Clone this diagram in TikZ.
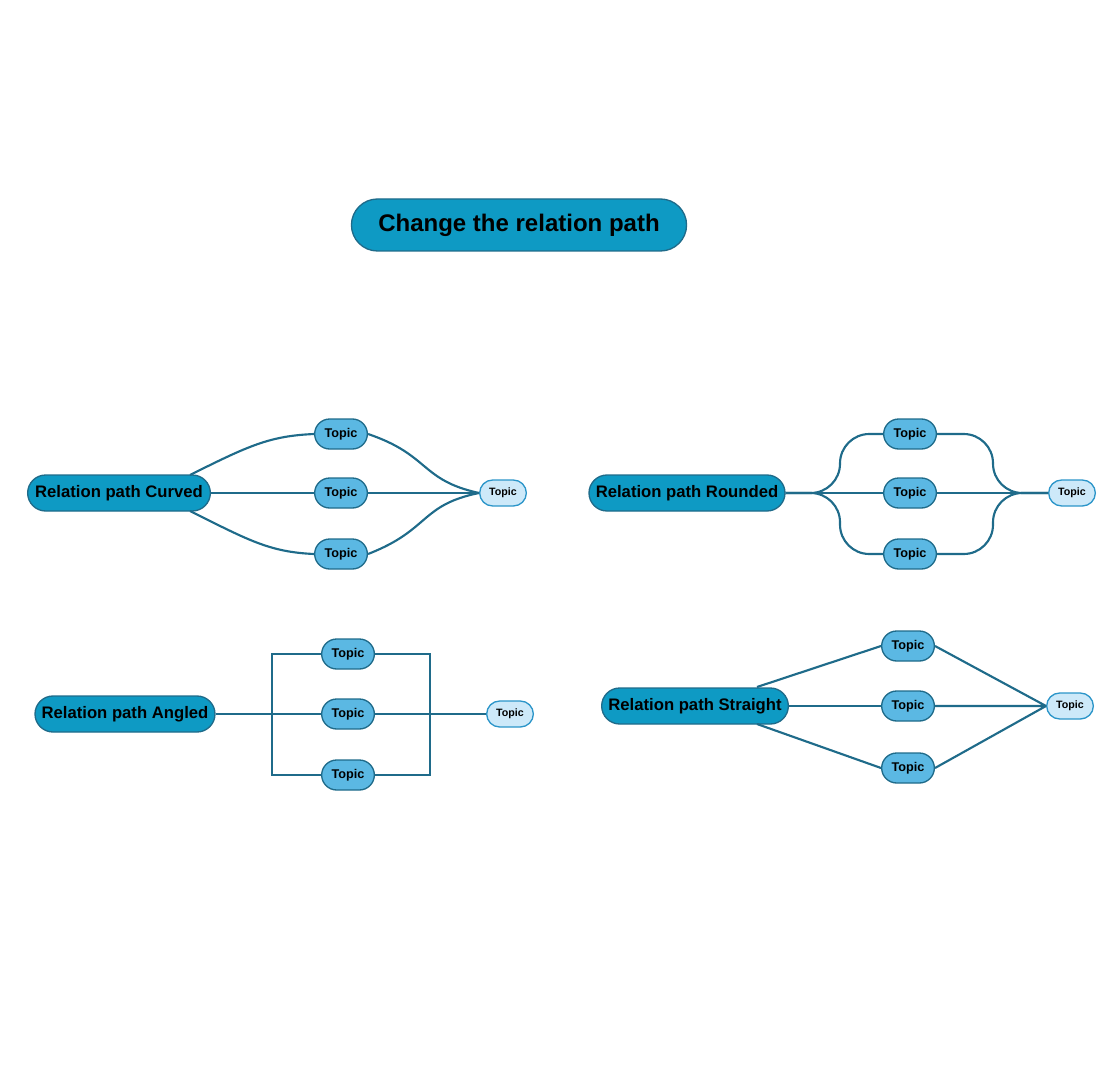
\documentclass[tikz,border=0pt]{standalone}
\usepackage{fontspec}
\setmainfont{Liberation Sans}
\usetikzlibrary{shapes.misc}
\definecolor{mainfill}{HTML}{0E9AC4}
\definecolor{topicfill}{HTML}{5BB8E3}
\definecolor{endfill}{HTML}{CDE9F9}
\definecolor{edge}{HTML}{1F6B8A}
\definecolor{endedge}{HTML}{2B95C9}
\tikzset{
	mainnode/.style={rounded rectangle,draw=edge,fill=mainfill,line width=1pt,font=\bfseries\fontsize{12.5}{14}\selectfont,minimum height=27pt,inner xsep=8pt},
	topicnode/.style={rounded rectangle,draw=edge,fill=topicfill,line width=1pt,font=\bfseries\fontsize{9.5}{11}\selectfont,minimum width=43.5pt,minimum height=22.5pt,inner sep=2pt},
	endnode/.style={rounded rectangle,draw=endedge,fill=endfill,line width=1pt,font=\bfseries\fontsize{8}{10}\selectfont,minimum width=39pt,minimum height=19.5pt,inner sep=2pt},
	rel/.style={draw=edge,line width=1.6pt}
}
\begin{document}
\begin{tikzpicture}[x=0.75pt,y=-0.75pt]
	\useasboundingbox (0,0) rectangle (1105,1080);
	\node [rounded rectangle,draw=edge,fill=mainfill,line width=1pt,font=\bfseries\fontsize{18}{20}\selectfont,minimum width=258pt,minimum height=39pt] (title) at (519,225) {Change the relation path};
	% curved
	\node [mainnode,minimum width=153pt] (c) at (119,493) {Relation path Curved};
	\node [topicnode] (c1) at (341,434) {Topic};
	\node [topicnode] (c2) at (341,493) {Topic};
	\node [topicnode] (c3) at (341,554) {Topic};
	\node [endnode] (ce) at (503,493) {Topic};
	\draw [rel] (190,475) .. controls (250,445) and (270,436) .. (c1.west);
	\draw [rel] (c.east) -- (c2.west);
	\draw [rel] (190,511) .. controls (250,541) and (270,552) .. (c3.west);
	\draw [rel] (c1.east) .. controls (430,455) and (420,480) .. (ce.west);
	\draw [rel] (c2.east) -- (ce.west);
	\draw [rel] (c3.east) .. controls (430,530) and (420,505) .. (ce.west);
	% rounded
	\node [mainnode,minimum width=163pt] (r) at (687,493) {Relation path Rounded};
	\node [topicnode] (r1) at (910,434) {Topic};
	\node [topicnode] (r2) at (910,493) {Topic};
	\node [topicnode] (r3) at (910,554) {Topic};
	\node [endnode] (re) at (1072,493) {Topic};
	\draw [rel,rounded corners=22pt] (r.east) -| (840,434) -- (r1.west);
	\draw [rel] (r.east) -- (r2.west);
	\draw [rel,rounded corners=22pt] (r.east) -| (840,554) -- (r3.west);
	\draw [rel,rounded corners=22pt] (r1.east) -| (993,493) -- (re.west);
	\draw [rel] (r2.east) -- (re.west);
	\draw [rel,rounded corners=22pt] (r3.east) -| (993,493) -- (re.west);
	% angled
	\node [mainnode,minimum width=151pt] (a) at (125,714) {Relation path Angled};
	\node [topicnode] (a1) at (348,654) {Topic};
	\node [topicnode] (a2) at (348,714) {Topic};
	\node [topicnode] (a3) at (348,775) {Topic};
	\node [endnode] (ae) at (510,714) {Topic};
	\draw [rel] (a.east) -- (272,714) |- (a1.west) (272,714) |- (a3.west);
	\draw [rel] (a.east) -- (a2.west);
	\draw [rel] (a1.east) -| (430,775) -- (a3.east);
	\draw [rel] (a2.east) -- (ae.west);
	% straight
	\node [mainnode,minimum width=156pt] (s) at (695,706) {Relation path Straight};
	\node [topicnode] (s1) at (908,646) {Topic};
	\node [topicnode] (s2) at (908,706) {Topic};
	\node [topicnode] (s3) at (908,768) {Topic};
	\node [endnode] (se) at (1070,706) {Topic};
	\draw [rel] (757,687) -- (s1.west);
	\draw [rel] (s.east) -- (s2.west);
	\draw [rel] (757,724) -- (s3.west);
	\draw [rel] (s1.east) -- (se.west) (s2.east) -- (se.west) (s3.east) -- (se.west);
\end{tikzpicture}
\end{document}
